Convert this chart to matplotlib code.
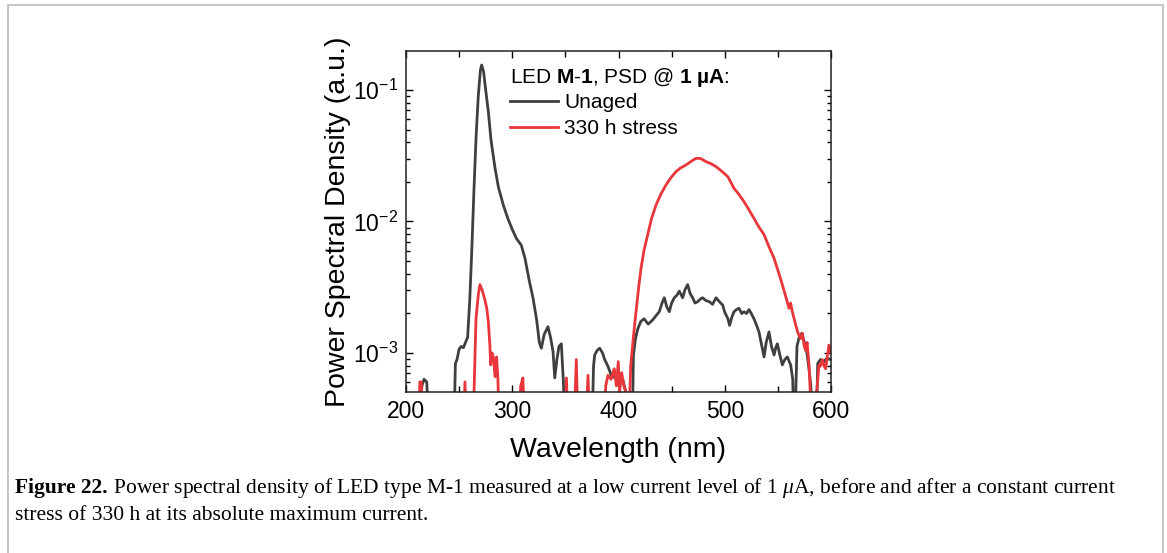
import numpy as np
import matplotlib
matplotlib.use("Agg")
import matplotlib.pyplot as plt
from matplotlib.ticker import MultipleLocator, LogLocator, NullFormatter
from matplotlib.patches import Rectangle

plt.rcParams['font.family'] = ['Liberation Sans', 'DejaVu Sans']
plt.rcParams['mathtext.fontset'] = 'custom'
plt.rcParams['mathtext.rm'] = 'Liberation Sans'
plt.rcParams['mathtext.bf'] = 'Liberation Sans:bold'
plt.rcParams['mathtext.it'] = 'Liberation Serif:italic'

# Values: wavelength (nm) and log10 of PSD (a.u.)
# (-3.6 means the trace drops below the bottom of the axis)
unaged_nm = [200, 212, 215, 217, 219.5, 222, 245, 246.5, 248, 250, 252, 254, 256, 258,
             260, 262, 264, 266, 268, 270, 271.2, 273, 275, 277.5, 280, 283.8, 287,
             291.6, 296, 300, 304, 308.5, 312, 316, 319.5, 323, 325.5, 327.4, 330,
             333.6, 336, 338.4, 340, 342, 344, 346.2, 348, 350, 375, 376.5, 377.6,
             380, 382.3, 385, 387, 390, 393.2, 397, 401.4, 404, 407, 408, 413, 414,
             416, 418, 421, 424, 428, 432, 435, 438.4, 441, 443.1, 445.5, 447.8, 450,
             452.5, 455, 457.2, 460.4, 462.5, 465.1, 467.5, 469.8, 472, 474.5, 477,
             479.2, 482, 485.5, 488.5, 491.8, 495, 498, 500, 503, 504.5, 507, 508.7,
             511, 513.4, 516, 518.1, 520.5, 522.8, 525, 527.5, 530, 532.2, 535, 537,
             539, 541.6, 544, 546.4, 548, 549.5, 552, 554.2, 556.5, 558.9, 562, 564,
             565, 566.5, 568, 570, 572.5, 575, 577, 579, 581, 583, 586, 587.5, 590,
             593, 596, 600]
unaged_log = [-3.6, -3.6, -3.25, -3.2, -3.22, -3.6, -3.6, -3.08, -3.05, -2.97, -2.95,
              -2.96, -2.92, -2.88, -2.6, -2.2, -1.75, -1.35, -1.05, -0.85, -0.81, -0.86,
              -1.0, -1.165, -1.38, -1.595, -1.74, -1.875, -1.98, -2.06, -2.13, -2.18,
              -2.28, -2.45, -2.58, -2.75, -2.92, -2.964, -2.86, -2.8, -2.88, -2.99,
              -3.19, -3.05, -2.95, -2.93, -3.2, -3.6, -3.6, -3.1, -3.015, -2.98, -2.964,
              -3.0, -3.05, -3.1, -3.17, -3.19, -3.22, -3.2, -3.3, -3.6, -3.6, -3.02,
              -2.89, -2.82, -2.76, -2.74, -2.78, -2.75, -2.72, -2.686, -2.62, -2.58,
              -2.65, -2.686, -2.62, -2.58, -2.56, -2.53, -2.58, -2.52, -2.48, -2.55,
              -2.58, -2.62, -2.61, -2.59, -2.58, -2.6, -2.61, -2.63, -2.58, -2.61,
              -2.635, -2.69, -2.74, -2.79, -2.72, -2.686, -2.67, -2.66, -2.7, -2.686,
              -2.7, -2.67, -2.7, -2.74, -2.79, -2.84, -2.95, -3.03, -2.92, -2.84, -2.95,
              -3.015, -2.96, -2.93, -3.02, -3.09, -3.05, -3.03, -3.09, -3.2, -3.6, -3.4,
              -2.95, -2.88, -2.85, -2.92, -2.98, -3.1, -3.25, -3.6, -3.6, -3.08, -3.05,
              -3.07, -3.04, -3.05]

stress_nm = [200, 212, 213, 214.5, 215.5, 254, 255.5, 257, 263.4, 265, 265.9, 268,
             269.6, 272, 274.4, 276, 277.5, 279, 279.7, 281, 282.2, 283.8, 285.3, 286.5,
             287.8, 306, 308, 310, 312, 349, 351, 352.5, 358, 360.3, 362, 369, 371.3,
             373, 386, 388, 390, 393, 396, 398, 399.8, 401, 403, 405, 407, 409, 410.2,
             411.5, 413.3, 415, 416.5, 419, 421.2, 424, 427.5, 431, 435.3, 440, 444.7,
             449, 454.1, 458, 463.5, 468, 472.9, 477, 482.4, 487, 491.8, 496, 499.3,
             503, 508.7, 513, 518.1, 522, 527.5, 532, 537, 541, 546.4, 550, 554.2, 557,
             560.5, 562, 563.6, 566.8, 569, 571.5, 573, 574.6, 576, 577.5, 579.3, 580.5,
             581.5, 585, 586.5, 588.7, 590, 591.8, 593.5, 595, 597, 598.1, 600]
stress_log = [-3.6, -3.6, -3.22, -3.22, -3.6, -3.6, -3.22, -3.6, -3.5, -3.0, -2.74,
              -2.56, -2.48, -2.53, -2.6, -2.66, -2.76, -2.95, -3.09, -3.0, -3.03, -3.18,
              -3.03, -3.2, -3.6, -3.6, -3.25, -3.19, -3.6, -3.6, -3.19, -3.6, -3.6,
              -3.05, -3.6, -3.6, -3.17, -3.6, -3.6, -3.25, -3.17, -3.2, -3.12, -3.25,
              -3.066, -3.3, -3.15, -3.25, -3.3, -3.4, -3.4, -3.1, -2.94, -2.8, -2.686,
              -2.5, -2.356, -2.22, -2.1, -1.98, -1.875, -1.79, -1.722, -1.67, -1.621,
              -1.595, -1.57, -1.545, -1.52, -1.52, -1.545, -1.56, -1.583, -1.61, -1.633,
              -1.66, -1.748, -1.79, -1.849, -1.9, -1.976, -2.04, -2.1, -2.18, -2.28,
              -2.37, -2.48, -2.56, -2.66, -2.62, -2.686, -2.787, -2.85, -2.89, -2.85,
              -2.94, -2.98, -2.92, -3.09, -3.3, -3.6, -3.6, -3.3, -3.09, -3.1, -3.05,
              -3.1, -3.12, -3.0, -2.94, -3.0]

series_labels = ['Unaged', '330 h stress']

fig = plt.figure(figsize=(11.67, 5.53), dpi=100)
ax = fig.add_axes([406 / 1167, 161 / 553, 425 / 1167, 341 / 553])

ax.plot(unaged_nm, 10.0 ** np.array(unaged_log), color='#3f3f3f', lw=2.0, label=series_labels[0])
ax.plot(stress_nm, 10.0 ** np.array(stress_log), color='#e8363b', lw=2.0, label=series_labels[1])

ax.set_yscale('log')
ax.set_xlim(200, 600)
ax.set_ylim(5.05e-4, 0.198)
ax.xaxis.set_major_locator(MultipleLocator(100))
ax.xaxis.set_minor_locator(MultipleLocator(50))
ax.yaxis.set_major_locator(LogLocator(base=10))
ax.yaxis.set_minor_locator(LogLocator(base=10, subs=np.arange(2, 10)))
ax.yaxis.set_minor_formatter(NullFormatter())

ax.tick_params(which='both', direction='in', top=True, right=True, width=1.0)
ax.tick_params(which='major', length=5, labelsize=16.5, pad=6)
ax.tick_params(which='minor', length=3)
ax.tick_params(axis='x', which='minor', length=4)
for s in ax.spines.values():
    s.set_linewidth(1.1)
    s.set_color('#222222')

ax.set_xlabel('Wavelength (nm)', fontsize=20.5, labelpad=10)
ax.set_ylabel('Power Spectral Density (a.u.)', fontsize=20.5, labelpad=1)

leg = ax.legend(title=r'LED $\mathbf{M}$-$\mathbf{1}$, PSD @ $\mathbf{1\ µA}$:',
                loc='upper left', bbox_to_anchor=(0.245, 0.957), frameon=False,
                fontsize=15, title_fontsize=15, borderpad=0, borderaxespad=0,
                labelspacing=0.35, handlelength=2.3, handletextpad=0.3,
                alignment='left')
leg._legend_box.sep = 3

# light gray frame around the figure panel
fig.add_artist(Rectangle((7.5 / 1167, -0.05), 1155 / 1167, 1.05 - 5.5 / 553,
                         transform=fig.transFigure, fill=False,
                         edgecolor='#c8c8c8', lw=1.5))

# caption
renderer = fig.canvas.get_renderer()
cap_size = 15.5
t1 = fig.text(15 / 1167, 1 - 488 / 553, 'Figure 22.', family='Liberation Serif',
              weight='bold', fontsize=cap_size, va='center')
bb = t1.get_window_extent(renderer)
fig.text(bb.x1 / 1167, 1 - 488 / 553,
         r' Power spectral density of LED type M-1 measured at a low current level of 1 $\mu$A, '
         'before and after a constant current',
         family='Liberation Serif', fontsize=cap_size, va='center')
fig.text(15 / 1167, 1 - 516 / 553, 'stress of 330 h at its absolute maximum current.',
         family='Liberation Serif', fontsize=cap_size, va='center')

fig.savefig('out.png', dpi=100)
